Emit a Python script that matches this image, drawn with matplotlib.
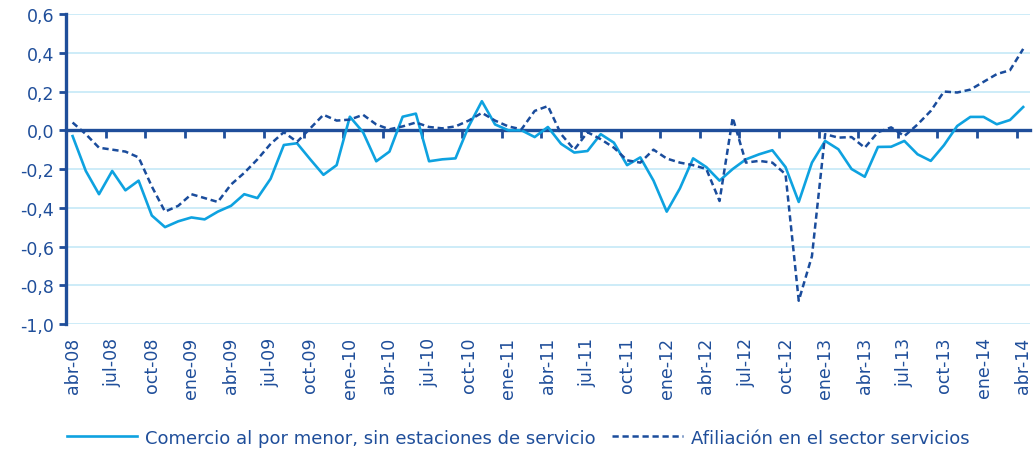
import matplotlib.pyplot as plt
import matplotlib.ticker as mticker

# meses abr-08 .. abr-14
meses = ["ene", "feb", "mar", "abr", "may", "jun", "jul", "ago", "sep", "oct", "nov", "dic"]
labels = []
for k in range(73):
    m = (3 + k) % 12
    y = 8 + (3 + k) // 12
    labels.append("{}-{:02d}".format(meses[m], y))

comercio = [-0.03, -0.21, -0.33, -0.21, -0.31, -0.26, -0.44, -0.50, -0.47, -0.45,
            -0.46, -0.42, -0.39, -0.33, -0.35, -0.25, -0.076, -0.067, -0.15, -0.23,
            -0.18, 0.07, -0.01, -0.16, -0.11, 0.07, 0.086, -0.16, -0.15, -0.145,
            0.02, 0.15, 0.03, 0.0, 0.0, -0.035, 0.017, -0.07, -0.115, -0.107,
            -0.02, -0.064, -0.18, -0.14, -0.26, -0.42, -0.30, -0.145, -0.19, -0.26,
            -0.20, -0.15, -0.124, -0.103, -0.19, -0.37, -0.167, -0.055, -0.098, -0.20,
            -0.24, -0.086, -0.085, -0.055, -0.124, -0.158, -0.077, 0.022, 0.069, 0.069,
            0.031, 0.053, 0.12]

afiliacion = [0.04, -0.02, -0.09, -0.10, -0.11, -0.14, -0.29, -0.42, -0.39, -0.33,
              -0.35, -0.37, -0.28, -0.22, -0.15, -0.07, -0.01, -0.06, 0.01, 0.08,
              0.05, 0.055, 0.08, 0.03, 0.005, 0.02, 0.04, 0.017, 0.01, 0.02,
              0.05, 0.09, 0.05, 0.02, 0.005, 0.10, 0.125, -0.02, -0.10, -0.01,
              -0.046, -0.09, -0.155, -0.167, -0.10, -0.146, -0.167, -0.18, -0.20, -0.365,
              0.065, -0.167, -0.158, -0.167, -0.227, -0.88, -0.65, -0.02, -0.038, -0.035,
              -0.09, -0.01, 0.015, -0.03, 0.03, 0.10, 0.20, 0.195, 0.21, 0.25,
              0.29, 0.31, 0.42]

azul = '#1f4e9a'
celeste = '#0ea2e0'
rejilla = '#c9eaf8'

plt.rcParams['font.family'] = ['DejaVu Sans']

fig = plt.figure(figsize=(10.36, 4.52), dpi=100)
ax = fig.add_axes([0.0637, 0.281, 0.9303, 0.6857])

x = list(range(len(labels)))
ax.plot(x, comercio, color=celeste, lw=1.9, label="Comercio al por menor, sin estaciones de servicio")
ax.plot(x, afiliacion, color='#1a4c9c', lw=1.8, linestyle=(0, (2.5, 1.5)),
        label="Afiliación en el sector servicios")

ax.set_xlim(-0.5, 72.5)
ax.set_ylim(-1.0, 0.6)
ax.set_yticks([0.6, 0.4, 0.2, 0.0, -0.2, -0.4, -0.6, -0.8, -1.0])
ax.yaxis.set_major_formatter(mticker.FuncFormatter(lambda v, p: "{:.1f}".format(v).replace('.', ',').replace('-0,0', '0,0')))
ax.grid(axis='y', color=rejilla, lw=1.3)
ax.set_axisbelow(True)

ax.set_xticks(x[::3])
ax.set_xticklabels(labels[::3])
ax.set_xticks([2.5 + 3 * k for k in range(24)], minor=True)

for s in ['right', 'bottom']:
    ax.spines[s].set_visible(False)
ax.spines['left'].set_color(azul)
ax.spines['left'].set_linewidth(2.4)
ax.spines['top'].set_position(('data', 0))
ax.spines['top'].set_color(azul)
ax.spines['top'].set_linewidth(2.4)
ax.spines['top'].set_zorder(1)

ax.tick_params(axis='y', colors=azul, labelsize=12.5, length=5, width=2, direction='out')
ax.tick_params(axis='x', which='major', colors=azul, labelsize=12.5, length=0, pad=9,
               top=False, labelrotation=90)
ax.tick_params(axis='x', which='minor', bottom=False, top=True, direction='in',
               length=6, width=2, color=azul)

leg = fig.legend(loc='lower center', ncol=2, frameon=False, fontsize=13,
                 bbox_to_anchor=(0.50, -0.026), handlelength=3.9, columnspacing=0.9,
                 handletextpad=0.45)
for t in leg.get_texts():
    t.set_color(azul)

fig.savefig('out.png', dpi=100)
